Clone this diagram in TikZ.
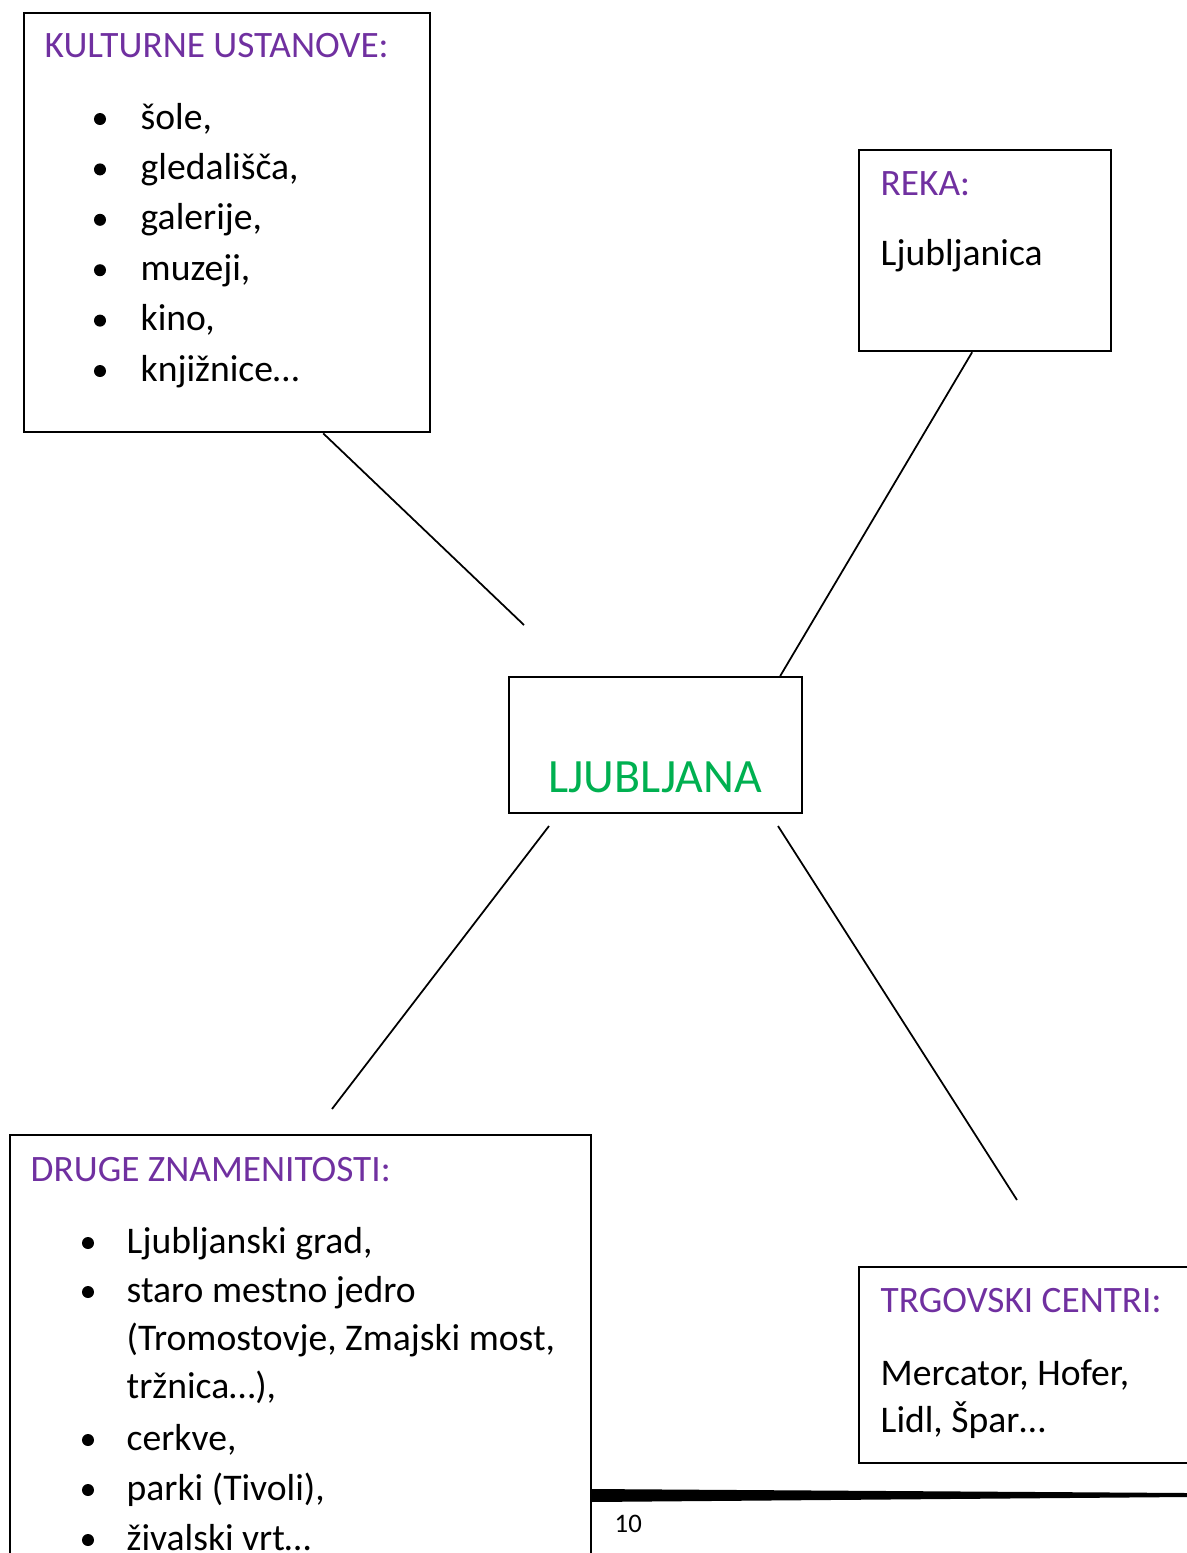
\documentclass[tikz,border=0pt]{standalone}
\usepackage{fontspec}
\setmainfont{Carlito}
\definecolor{titlepurple}{HTML}{7030A0}
\definecolor{citygreen}{HTML}{00B050}

\begin{document}
\begin{tikzpicture}[x=0.01cm,y=-0.01cm,
  box/.style={draw,line width=0.6pt,anchor=north west,inner sep=0},
  heading/.style={anchor=base west,inner sep=0,text=titlepurple,font=\fontsize{10.6}{12}\selectfont},
  entry/.style={anchor=base west,inner sep=0,font=\fontsize{10.7}{12}\selectfont},
  link/.style={line width=0.5pt}]
  \useasboundingbox (0,0) rectangle (1187,1553);
  \clip (0,0) rectangle (1187,1553);
  % boxes
  \node[box,minimum width=4.06cm,minimum height=4.19cm] (kult) at (23,12) {};
  \node[box,minimum width=2.52cm,minimum height=2.01cm] (reka) at (858,149) {};
  \node[box,minimum width=2.93cm,minimum height=1.36cm] (ljub) at (508,676) {};
  \node[box,minimum width=5.81cm,minimum height=4.4cm] (druge) at (9,1134) {};
  \node[box,minimum width=3.4cm,minimum height=1.96cm] (trg) at (858,1266) {};
  % kulturne ustanove
  \node[heading] (kulthead) at (44,57) {KULTURNE USTANOVE:};
  \foreach \t [count=\i] in {{šole,},{gledališča,},{galerije,},{muzeji,},{kino,},{knjižnice…}} {
    \pgfmathsetmacro{\y}{129+50.4*(\i-1)}
    \fill (100,\y-10) circle[radius=0.06cm];
    \node[entry] (kult\i) at (140,\y) {\t};
  }
  % reka
  \node[heading] (rekahead) at (880,195) {REKA:};
  \node[entry] (rekatext) at (880,265) {Ljubljanica};
  % center
  \node[anchor=base,inner sep=0,text=citygreen,font=\fontsize{13.6}{16}\selectfont] (city) at (655,792) {LJUBLJANA};
  % druge znamenitosti
  \node[heading] (drugehead) at (30,1181) {DRUGE ZNAMENITOSTI:};
  \fill (88,1243) circle[radius=0.06cm];
  \node[entry] (druge1) at (126,1253) {Ljubljanski grad,};
  \fill (88,1292) circle[radius=0.06cm];
  \node[entry] (druge2) at (126,1302) {staro mestno jedro};
  \node[entry] (druge2b) at (126,1350) {(Tromostovje, Zmajski most,};
  \node[entry] (druge2c) at (126,1398) {tržnica…),};
  \fill (88,1440) circle[radius=0.06cm];
  \node[entry] (druge3) at (126,1450) {cerkve,};
  \fill (88,1490) circle[radius=0.06cm];
  \node[entry] (druge4) at (126,1500) {parki (Tivoli),};
  \fill (88,1540) circle[radius=0.06cm];
  \node[entry] (druge5) at (126,1550) {živalski vrt…};
  % trgovski centri
  \node[heading] (trghead) at (880,1312) {TRGOVSKI CENTRI:};
  \node[entry] (trg1) at (880,1385) {Mercator, Hofer,};
  \node[entry] (trg2) at (880,1432) {Lidl, Špar…};
  % connectors
  \coordinate (nwend) at (524,625);
  \coordinate (swtop) at (549,826);
  \coordinate (swend) at (332,1109);
  \coordinate (setop) at (778,826);
  \coordinate (seend) at (1017,1200);
  \draw[link] ([xshift=0.96cm]kult.south) -- (nwend);
  \draw[link] ([xshift=-0.13cm]reka.south) -- ([xshift=1.245cm]ljub.north);
  \draw[link] (swtop) -- (swend);
  \draw[link] (setop) -- (seend);
  % page footer
  \fill (590,1489) -- (1187,1493) -- (1187,1497) -- (590,1502) -- cycle;
  \node[anchor=base west,inner sep=0,font=\fontsize{7.6}{9}\selectfont] (pagenum) at (614,1532) {10};
\end{tikzpicture}
\end{document}
